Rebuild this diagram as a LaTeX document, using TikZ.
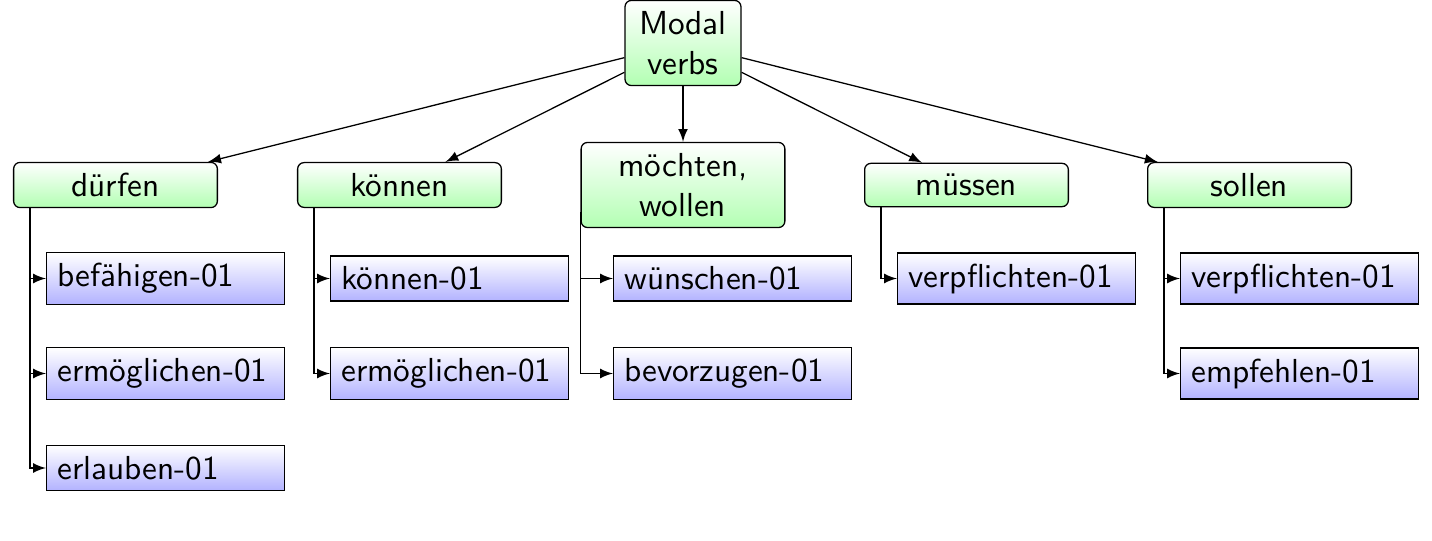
\documentclass[tikz,border=0pt]{standalone}
\usetikzlibrary{positioning,calc,arrows}

\newcommand{\nodefont}{\sffamily\fontsize{10.4}{12.6}\selectfont}

\begin{document}
\begin{tikzpicture}[
    x=0.3125pt, y=-0.3125pt,
    root/.style = {draw, rounded corners=2pt, top color=white, bottom color=green!30, font=\nodefont, align=center, minimum width=36.25pt},
    modal/.style = {draw, rounded corners=2pt, top color=white, bottom color=green!30, font=\nodefont, align=center, text width=57pt},
    sense/.style = {draw, top color=white, bottom color=blue!30, font=\nodefont, align=left, text width=67.6pt, anchor=west},
    branch/.style = {-latex},
    hook/.style = {-latex}
    ]
    \useasboundingbox (0,0) rectangle (1432,541);

    \node[root] (modal-verbs) at (683,43) {Modal\\verbs};

    \node[modal] (duerfen) at (115.5,185) {dürfen};
    \node[modal] (koennen) at (399.5,185) {können};
    \node[modal] (moechten) at (683,185) {möchten,\\wollen};
    \node[modal] (muessen) at (966.5,185) {müssen};
    \node[modal] (sollen) at (1249.5,185) {sollen};

    \node[sense] (befaehigen) at (46,278.5) {befähigen-01};
    \node[sense] (ermoeglichen-a) at (46,373.5) {ermöglichen-01};
    \node[sense] (erlauben) at (46,468) {erlauben-01};
    \node[sense] (koennen-01) at (330,278.5) {können-01};
    \node[sense] (ermoeglichen-b) at (330,373.5) {ermöglichen-01};
    \node[sense] (wuenschen) at (613,278.5) {wünschen-01};
    \node[sense] (bevorzugen) at (613,373.5) {bevorzugen-01};
    \node[sense] (verpflichten-a) at (897,278.5) {verpflichten-01};
    \node[sense] (verpflichten-b) at (1180,278.5) {verpflichten-01};
    \node[sense] (empfehlen) at (1180,373.5) {empfehlen-01};

    \draw[branch] (modal-verbs) -- (duerfen);
    \draw[branch] (modal-verbs) -- (koennen);
    \draw[branch] (modal-verbs) -- (moechten);
    \draw[branch] (modal-verbs) -- (muessen);
    \draw[branch] (modal-verbs) -- (sollen);

    \draw[hook] ($(duerfen.south west)+(17,0)$) |- (befaehigen.west);
    \draw[hook] ($(duerfen.south west)+(17,0)$) |- (ermoeglichen-a.west);
    \draw[hook] ($(duerfen.south west)+(17,0)$) |- (erlauben.west);
    \draw[hook] ($(koennen.south west)+(17,0)$) |- (koennen-01.west);
    \draw[hook] ($(koennen.south west)+(17,0)$) |- (ermoeglichen-b.west);
    \draw[hook] ($(moechten.south west)+(0,-16)$) |- (wuenschen.west);
    \draw[hook] ($(moechten.south west)+(0,-16)$) |- (bevorzugen.west);
    \draw[hook] ($(muessen.south west)+(17,0)$) |- (verpflichten-a.west);
    \draw[hook] ($(sollen.south west)+(17,0)$) |- (verpflichten-b.west);
    \draw[hook] ($(sollen.south west)+(17,0)$) |- (empfehlen.west);
\end{tikzpicture}
\end{document}
